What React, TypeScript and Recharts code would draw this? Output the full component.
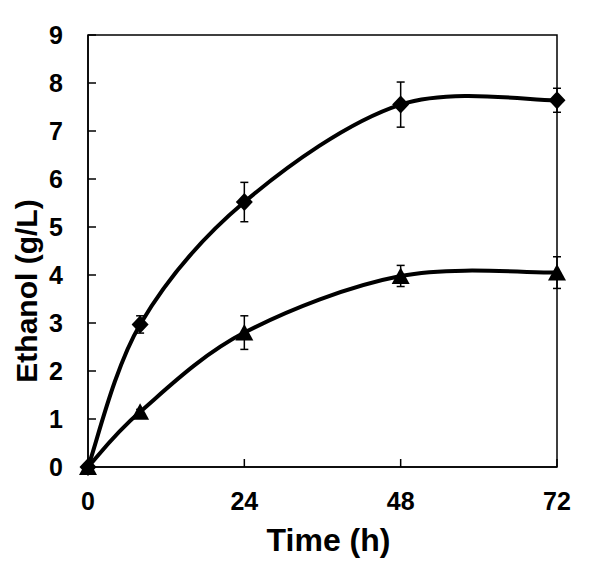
import {
  ErrorBar,
  Label,
  Line,
  LineChart,
  ReferenceArea,
  XAxis,
  YAxis
} from "recharts";

const hours = [0, 8, 24, 48, 72];
const diamondEthanol = [0, 2.97, 5.52, 7.55, 7.64];
const diamondSd = [0, 0.18, 0.41, 0.47, 0.25];
const triangleEthanol = [0, 1.15, 2.8, 3.98, 4.05];
const triangleSd = [0, 0.05, 0.35, 0.22, 0.33];
const xTicks = [0, 24, 48, 72];
const yTicks = [0, 1, 2, 3, 4, 5, 6, 7, 8, 9];

const data = hours.map((h, i) => ({
  h,
  diamond: diamondEthanol[i],
  diamondSd: diamondSd[i],
  triangle: triangleEthanol[i],
  triangleSd: triangleSd[i]
}));

const font = "'Liberation Sans', Arial, sans-serif";
const tickStyle = { fill: "#000", fontSize: 25, fontWeight: 700, fontFamily: font };

// excel-style smoothed line (bezier through every point, 1/6 tangents)
function smoothCurve(context: any) {
  let pts: number[][] = [];
  return {
    areaStart() {},
    areaEnd() {},
    lineStart() {
      pts = [];
    },
    point(x: number, y: number) {
      pts.push([+x, +y]);
    },
    lineEnd() {
      const n = pts.length;
      if (!n) return;
      context.moveTo(pts[0][0], pts[0][1]);
      for (let i = 0; i < n - 1; i++) {
        const p0 = pts[i - 1] || pts[i];
        const p1 = pts[i];
        const p2 = pts[i + 1];
        const p3 = pts[i + 2] || p2;
        context.bezierCurveTo(
          p1[0] + (p2[0] - p0[0]) / 6,
          p1[1] + (p2[1] - p0[1]) / 6,
          p2[0] - (p3[0] - p1[0]) / 6,
          p2[1] - (p3[1] - p1[1]) / 6,
          p2[0],
          p2[1]
        );
      }
    }
  };
}

function DiamondDot(props: any) {
  const { cx, cy } = props;
  if (cx == null || cy == null) return null;
  return (
    <path
      d={`M${cx},${cy - 9}L${cx + 8.5},${cy}L${cx},${cy + 9}L${cx - 8.5},${cy}Z`}
      fill="#000"
    />
  );
}

function TriangleDot(props: any) {
  const { cx, cy } = props;
  if (cx == null || cy == null) return null;
  return (
    <path d={`M${cx},${cy - 8.5}L${cx + 9},${cy + 8}L${cx - 9},${cy + 8}Z`} fill="#000" />
  );
}

export default function App() {
  return (
    <div style={{ position: "absolute", left: 0, top: 0, background: "#fff" }}>
      <LineChart
        width={600}
        height={574}
        data={data}
        margin={{ top: 35, right: 43, bottom: 0, left: 0 }}
      >
        <ReferenceArea x1={0} x2={72} y1={0} y2={9} fill="none" stroke="#000" strokeWidth={1.5} />
        <XAxis
          dataKey="h"
          type="number"
          domain={[0, 72]}
          ticks={xTicks}
          height={107}
          tickSize={-8}
          tickMargin={33}
          tick={tickStyle}
          axisLine={{ stroke: "#000", strokeWidth: 1.5 }}
          tickLine={{ stroke: "#000", strokeWidth: 1.5 }}
        >
          <Label
            content={({ viewBox }: any) => (
              <text
                x={viewBox.x + viewBox.width / 2 + 6}
                y={viewBox.y + 84}
                textAnchor="middle"
                style={{ fontSize: 32, fontWeight: 700, fontFamily: font }}
              >
                Time (h)
              </text>
            )}
          />
        </XAxis>
        <YAxis
          type="number"
          domain={[0, 9]}
          ticks={yTicks}
          width={88}
          tickSize={-8}
          tickMargin={33}
          tick={tickStyle}
          axisLine={{ stroke: "#000", strokeWidth: 1.5 }}
          tickLine={{ stroke: "#000", strokeWidth: 1.5 }}
        >
          <Label
            content={({ viewBox }: any) => {
              const cx = viewBox.x + 26;
              const cy = viewBox.y + viewBox.height / 2 + 40;
              return (
                <text
                  x={cx}
                  y={cy}
                  textAnchor="middle"
                  dominantBaseline="central"
                  transform={`rotate(-90 ${cx} ${cy})`}
                  style={{ fontSize: 30, fontWeight: 700, fontFamily: font }}
                >
                  Ethanol (g/L)
                </text>
              );
            }}
          />
        </YAxis>
        <Line
          dataKey="diamond"
          type={smoothCurve as any}
          stroke="#000"
          strokeWidth={4}
          dot={(p: any) => <DiamondDot key={`d${p.index}`} {...p} />}
          activeDot={false}
          isAnimationActive={false}
        >
          <ErrorBar dataKey="diamondSd" width={4} stroke="#000" strokeWidth={1.5} direction="y" />
        </Line>
        <Line
          dataKey="triangle"
          type={smoothCurve as any}
          stroke="#000"
          strokeWidth={4}
          dot={(p: any) => <TriangleDot key={`t${p.index}`} {...p} />}
          activeDot={false}
          isAnimationActive={false}
        >
          <ErrorBar dataKey="triangleSd" width={4} stroke="#000" strokeWidth={1.5} direction="y" />
        </Line>
      </LineChart>
    </div>
  );
}
